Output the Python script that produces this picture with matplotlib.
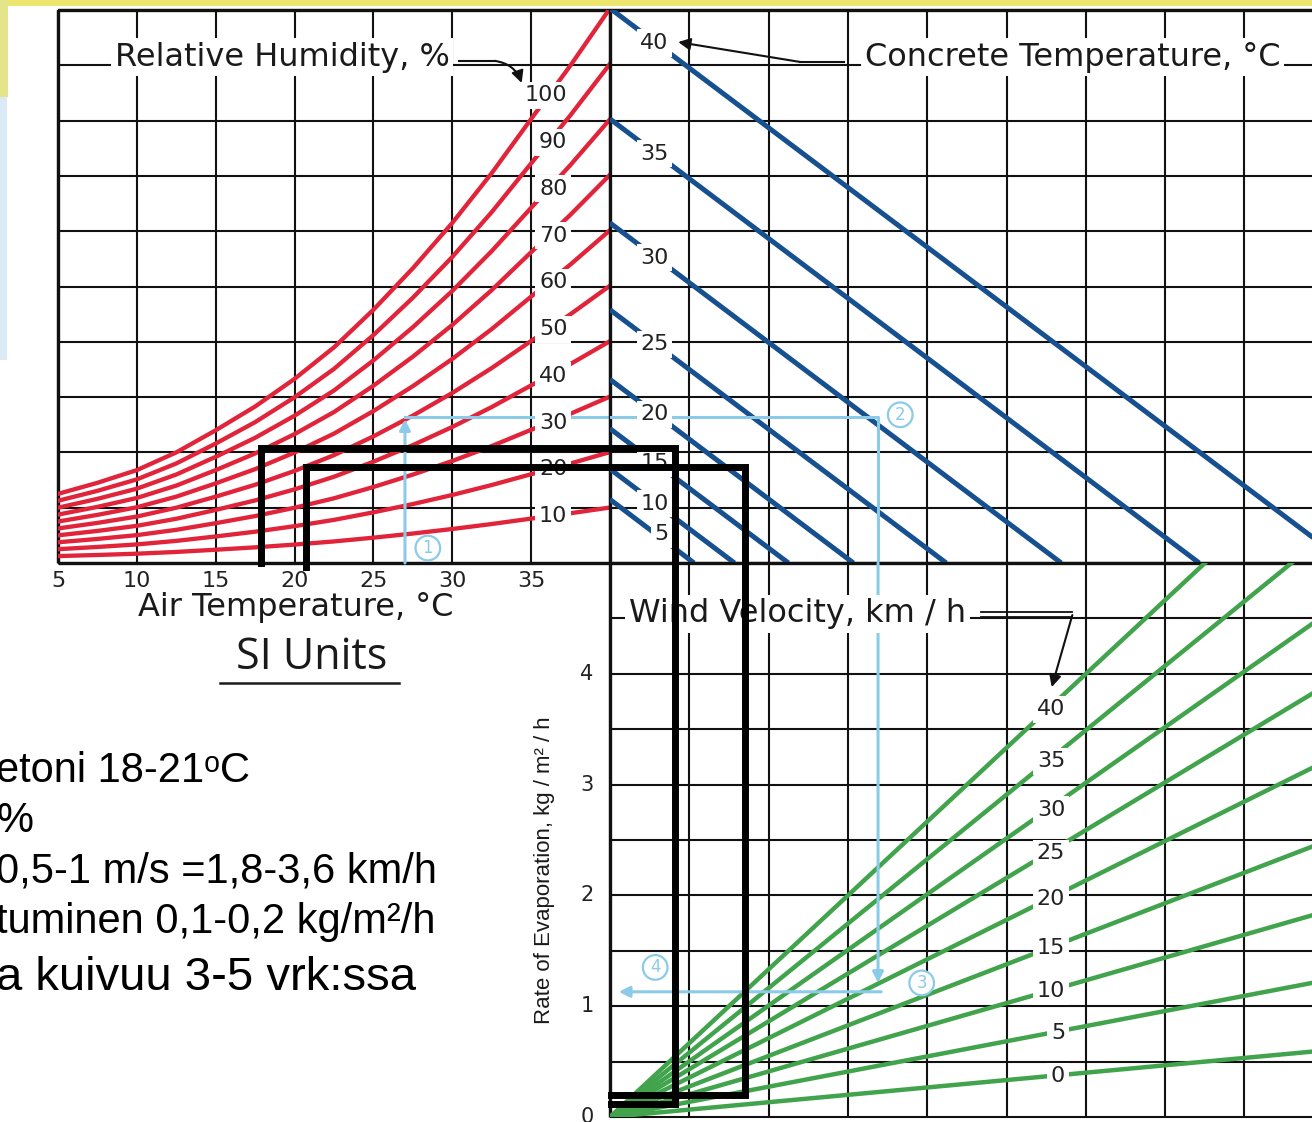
import numpy as np
import matplotlib
matplotlib.use("Agg")
import matplotlib.pyplot as plt
from matplotlib.lines import Line2D
from matplotlib.patches import Rectangle
from matplotlib import font_manager

air_temp = [5, 7.5, 10, 12.5, 15, 17.5, 20, 22.5, 25, 27.5, 30, 32.5, 35, 37.5, 40]
saturation = [1.25, 1.45, 1.68, 2.00, 2.40, 2.83, 3.33, 3.90, 4.58, 5.33, 6.15, 7.05, 8.03, 9.00, 10.03]
rel_humidity = [10, 20, 30, 40, 50, 60, 70, 80, 90, 100]
air_ticks = [5, 10, 15, 20, 25, 30, 35]

concrete_temp = [40, 35, 30, 25, 20, 15, 10, 5]
concrete_start = [10.03, 8.03, 6.15, 4.58, 3.32, 2.43, 1.70, 1.15]
concrete_end = [9.29, 7.43, 5.69, 4.24, 3.07, 2.25, 1.57, 1.06]

wind_speed = [0, 5, 10, 15, 20, 25, 30, 35, 40]
wind_rate_edge = [0.59, 1.21, 1.82, 2.44, 3.15, 3.82, 4.45, 5.15, 5.90]
rate_ticks = [0, 1, 2, 3, 4]

example_air = 27.0
example_vapour = 2.64
example_delta = 3.38
example_rate = 1.13

overlay_air = [17.9, 20.7]
overlay_vapour = [2.08, 1.74]
overlay_delta = [0.82, 1.70]
overlay_rate = [0.12, 0.20]

note_lines = ["etoni 18-21\u1d52C", "%", "0,5-1 m/s =1,8-3,6 km/h",
              "tuminen 0,1-0,2 kg/m\u00b2/h", "a kuivuu 3-5 vrk:ssa"]

# ---------------- layout / style ----------------
W, H = 1312, 1122
RED = "#e1243a"
BLUE = "#17508f"
GREEN = "#41a34c"
LBLUE = "#8ccbe8"
GRID = "#111111"
LF = "DejaVu Sans"
DELTA_MAX = 8.852
TITLE_SIZE = 23
NUM_SIZE = 16

names = {f.name for f in font_manager.fontManager.ttflist}
if "Liberation Sans Narrow" in names:
    ylab_family, ylab_size = "Liberation Sans Narrow", 19
else:
    ylab_family, ylab_size = "Liberation Sans", 16
si_family = "Open Sans" if "Open Sans" in names else "DejaVu Sans"


def fx(px):
    return px / W


def fy(py):
    return 1 - py / H


fig = plt.figure(figsize=(W / 100, H / 100), dpi=100)
fig.patch.set_facecolor("white")

# background slide strips
fig.add_artist(Rectangle((0, fy(6)), 1, 1 - fy(6), transform=fig.transFigure,
                         fc="#ece66f", ec="none", zorder=-5))
fig.add_artist(Rectangle((0, fy(97)), fx(8), 1 - fy(97), transform=fig.transFigure,
                         fc="#e4e48a", ec="none", zorder=-5))
fig.add_artist(Rectangle((0, fy(360)), fx(7), fy(97) - fy(360), transform=fig.transFigure,
                         fc="#dce9f6", ec="none", zorder=-5))

ax_tl = fig.add_axes([fx(58), fy(563), fx(610) - fx(58), fy(10) - fy(563)])
ax_tr = fig.add_axes([fx(610), fy(563), 1 - fx(610), fy(10) - fy(563)])
ax_br = fig.add_axes([fx(610), fy(1117), 1 - fx(610), fy(563) - fy(1117)])
for ax in (ax_tl, ax_tr, ax_br):
    ax.set_axis_off()
    ax.patch.set_visible(False)
ax_tl.set_xlim(5, 40)
ax_tl.set_ylim(0, 10)
ax_tr.set_xlim(0, DELTA_MAX)
ax_tr.set_ylim(0, 10)
ax_br.set_xlim(0, DELTA_MAX)
ax_br.set_ylim(0, 5)

# grids
gkw = dict(color=GRID, lw=1.5, zorder=1, clip_on=False)
hkw = dict(color=GRID, lw=2.4, zorder=1.1, clip_on=False)
rows = np.arange(0, 11)
cols = np.arange(0, 9)
ax_tl.vlines(np.arange(5, 41, 5), 0, 10, **gkw)
ax_tl.hlines(rows, 5, 40, **gkw)
ax_tr.vlines(cols, 0, 10, **gkw)
ax_tr.hlines(rows, 0, DELTA_MAX, **gkw)
ax_br.vlines(cols, 0, 5, **gkw)
ax_br.hlines(np.arange(0, 5.01, 0.5), 0, DELTA_MAX, **gkw)
ax_tl.vlines([5], 0, 10, **hkw)
ax_tr.vlines([0], 0, 10, **hkw)
ax_br.vlines([0], 0, 5, **hkw)
ax_tl.hlines([0, 10], 5, 40, **hkw)
ax_tr.hlines([0, 10], 0, DELTA_MAX, **hkw)

lab_kw = dict(fontsize=NUM_SIZE, family=LF, color="#222222", zorder=4,
              bbox=dict(boxstyle="square,pad=0.16", fc="white", ec="none"))

# relative humidity curves
sat = np.array(saturation)
sat_lab = np.interp(36.1, air_temp, saturation)
for rh in rel_humidity:
    ax_tl.plot(air_temp, sat * rh / 100, color=RED, lw=3.1, zorder=2,
               solid_joinstyle="round")
    ax_tl.text(37.3, rh / 100 * sat_lab, str(rh), ha="right", va="center", **lab_kw)

# concrete temperature lines
for t, s, e in zip(concrete_temp, concrete_start, concrete_end):
    ax_tr.plot([0, e], [s, 0], color=BLUE, lw=3.6, zorder=2, solid_capstyle="butt")
    ax_tr.text(0.74, s * (1 - 0.58 / e), str(t), ha="right", va="center", **lab_kw)

# wind velocity lines
for v, r in zip(wind_speed, wind_rate_edge):
    ax_br.plot([0, DELTA_MAX], [0, r], color=GREEN, lw=3.2, zorder=2)
    ax_br.text(5.74, r * 5.52 / DELTA_MAX, str(v), ha="right", va="center", **lab_kw)

# tick labels
for t in air_ticks:
    ax_tl.text(t, -0.33, str(t), ha="center", va="center", fontsize=NUM_SIZE,
               family=LF, color="#222222", clip_on=False)
for r in rate_ticks:
    ax_br.text(-0.29, r, str(r), ha="center", va="center", fontsize=15,
               family=LF, color="#222222", clip_on=False)

tbox = dict(boxstyle="square,pad=0.12", fc="white", ec="none")
ax_tl.text(20.1, -0.80, "Air Temperature, \u00b0C", ha="center", va="center",
           fontsize=TITLE_SIZE, family=LF, color="#1a1a1a", clip_on=False)
ax_tl.text(19.2, 9.15, "Relative Humidity, %", ha="center", va="center",
           fontsize=TITLE_SIZE, family=LF, color="#1a1a1a", bbox=tbox, zorder=4)
ax_tr.text(5.83, 9.15, "Concrete Temperature, \u00b0C", ha="center", va="center",
           fontsize=TITLE_SIZE, family=LF, color="#1a1a1a", bbox=tbox, zorder=4)
ax_br.text(2.36, 4.54, "Wind Velocity, km / h", ha="center", va="center",
           fontsize=TITLE_SIZE, family=LF, color="#1a1a1a", bbox=tbox, zorder=4)
ax_br.text(-0.82, 2.23, "Rate of Evaporation, kg / m\u00b2 / h", ha="center",
           va="center", rotation=90, fontsize=ylab_size, family=ylab_family,
           color="#1a1a1a", clip_on=False)
ax_tl.text(21.1, -1.72, "SI Units", ha="center", va="center", fontsize=31,
           family=si_family, color="#1a1a1a", clip_on=False)
ax_tl.plot([15.3, 26.6], [-2.17, -2.17], color="#1a1a1a", lw=1.8, clip_on=False)

# leaders
akw = dict(arrowstyle="-|>", color=GRID, lw=1.5, mutation_scale=18, shrinkA=0, shrinkB=0)
ax_tl.plot([30.4, 32.7], [9.08, 9.08], color=GRID, lw=1.5, zorder=3, clip_on=False)
ax_tl.annotate("", xy=(34.4, 8.68), xytext=(32.7, 9.08),
               arrowprops=dict(connectionstyle="arc3,rad=-0.3", **akw), zorder=5)
ax_tr.plot([2.40, 2.95], [9.06, 9.06], color=GRID, lw=1.5, zorder=3)
ax_tr.annotate("", xy=(0.86, 9.42), xytext=(2.40, 9.06), arrowprops=akw, zorder=5)
ax_br.plot([4.68, 5.83], [4.555, 4.555], color=GRID, lw=1.3, zorder=3)
ax_br.plot([4.68, 5.83], [4.51, 4.51], color=GRID, lw=1.3, zorder=3)
ax_br.annotate("", xy=(5.57, 3.88), xytext=(5.83, 4.53), arrowprops=akw, zorder=5)

# example path
bkw = dict(arrowstyle="-|>", color=LBLUE, lw=2.2, mutation_scale=16, shrinkA=0, shrinkB=0)
ax_tl.annotate("", xy=(example_air, example_vapour - 0.04), xytext=(example_air, 0),
               arrowprops=bkw, zorder=3)
ax_tl.plot([example_air, 40], [example_vapour, example_vapour], color=LBLUE, lw=2.2, zorder=3)
ax_tr.plot([0, example_delta, example_delta], [example_vapour, example_vapour, 0],
           color=LBLUE, lw=2.2, zorder=3)
ax_br.annotate("", xy=(example_delta, example_rate + 0.08), xytext=(example_delta, 5),
               arrowprops=bkw, zorder=3)
ax_br.annotate("", xy=(0.11, example_rate), xytext=(example_delta + 0.04, example_rate),
               arrowprops=bkw, zorder=3)
ckw = dict(color=LBLUE, fontsize=12, family=LF, ha="center", va="center", zorder=4,
           bbox=dict(boxstyle="circle,pad=0.2", fc="white", ec=LBLUE, lw=1.6))
ax_tl.text(28.45, 0.27, "1", **ckw)
ax_tr.text(3.66, 2.68, "2", **ckw)
ax_br.text(3.93, 1.21, "3", **ckw)
ax_br.text(0.57, 1.35, "4", **ckw)


# black overlay frames
def fig_pt(ax, x, y):
    return fig.transFigure.inverted().transform(ax.transData.transform((x, y)))


for i, start_y in enumerate([0.0, -0.07]):
    pts = [fig_pt(ax_tl, overlay_air[i], start_y),
           fig_pt(ax_tl, overlay_air[i], overlay_vapour[i]),
           fig_pt(ax_tr, overlay_delta[i], overlay_vapour[i]),
           fig_pt(ax_br, overlay_delta[i], overlay_rate[i]),
           fig_pt(ax_br, 0.015, overlay_rate[i])]
    pts = np.array(pts)
    fig.add_artist(Line2D(pts[:, 0], pts[:, 1], transform=fig.transFigure,
                          color="black", lw=5, solid_joinstyle="miter", zorder=10))

# notes (cut at the left edge)
note_base = [782, 832, 883, 933, 990]
note_size = [30, 30, 30, 30, 34]
for txt, b, s in zip(note_lines, note_base, note_size):
    fig.text(fx(-4), fy(b), txt, ha="left", va="baseline", fontsize=s,
             family=["Liberation Sans", "DejaVu Sans"], color="black")

fig.savefig("out.png", dpi=100)
